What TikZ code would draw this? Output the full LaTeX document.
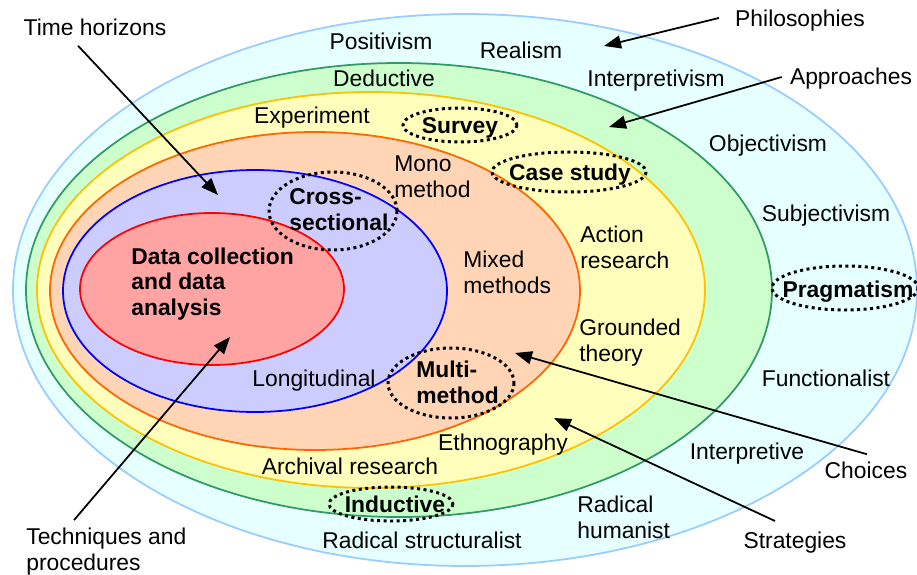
\documentclass[tikz,border=0pt]{standalone}
\usepackage{fontspec}
\setmainfont{Liberation Sans}
\usetikzlibrary{arrows.meta,calc}

\definecolor{skyfill}{HTML}{E6FFFF}
\definecolor{skyline}{HTML}{99CCFF}
\definecolor{mintfill}{HTML}{CCFFCC}
\definecolor{mintline}{HTML}{339966}
\definecolor{lemonfill}{HTML}{FFFFBB}
\definecolor{lemonline}{HTML}{FFC000}
\definecolor{peachfill}{HTML}{FFD5B5}
\definecolor{peachline}{HTML}{FF6600}
\definecolor{lilacfill}{HTML}{CCCCFF}
\definecolor{lilacline}{HTML}{0000FF}
\definecolor{rosefill}{HTML}{FFA3A3}
\definecolor{roseline}{HTML}{FF0000}

\begin{document}
\begin{tikzpicture}
  [x=0.02cm,y=-0.02cm,
   every node/.style={inner sep=0pt,font=\fontsize{13}{14.7}\selectfont},
   bold/.style={font=\fontsize{13}{14.7}\selectfont\bfseries},
   multi/.style={align=left,anchor=west},
   layer/.style={line width=1pt},
   ring/.style={line width=1.7pt,dash pattern=on 1.7pt off 2pt},
   arr/.style={line width=1pt,-{Triangle[length=3.4mm,width=2.6mm]}}]
  \useasboundingbox (0,0) rectangle (917,575);

  % Die Schichten der Zwiebel, von aussen nach innen
  \draw[layer,skyline,fill=skyfill] (465,290) ellipse (452 and 276);
  \draw[layer,mintline,fill=mintfill] (399,290) ellipse (373 and 227);
  \draw[layer,lemonline,fill=lemonfill] (371,290) ellipse (334 and 198);
  \draw[layer,peachline,fill=peachfill] (315,291) ellipse (265 and 159);
  \draw[layer,lilacline,fill=lilacfill] (255,291) ellipse (192 and 121);
  \draw[layer,roseline,fill=rosefill] (212,289) ellipse (132 and 76);

  % punktierte Ringe
  \draw[ring] (460,125) ellipse (57 and 17);
  \draw[ring] (569,172) ellipse (77 and 20);
  \draw[ring] (333,211) ellipse (64 and 39);
  \draw[ring] (845,288) ellipse (73 and 22);
  \draw[ring] (451,383) ellipse (63 and 35);
  \draw[ring] (391,504) ellipse (62 and 17);

  % Beschriftungen
  \node (timeh) at (95,27) {Time horizons};
  \node (philo) at (800,21) {Philosophies};
  \node (appr) at (851,79) {Approaches};
  \node (posit) at (381,41) {Positivism};
  \node (realism) at (521,50) {Realism};
  \node (deduct) at (384,78) {Deductive};
  \node (interpv) at (656,81) {Interpretivism};
  \node (exper) at (312,118) {Experiment};
  \node[bold] (survey) at (460,128) {Survey};
  \node (object) at (768,146) {Objectivism};
  \node[multi] (mono) at (394,177) {Mono\\method};
  \node[bold] (case) at (570,175) {Case study};
  \node[bold,multi] (cross) at (289,210) {Cross-\\sectional};
  \node (subject) at (826,216) {Subjectivism};
  \node[multi] (action) at (580,247) {Action\\research};
  \node[bold,multi] (data) at (131,284) {Data collection\\and data\\analysis};
  \node[multi] (mixed) at (463,272) {Mixed\\methods};
  \node[bold] (prag) at (848,292) {Pragmatism};
  \node[multi] (ground) at (579,343) {Grounded\\theory};
  \node (longit) at (314,381) {Longitudinal};
  \node[bold,multi] (multim) at (416,382) {Multi-\\method};
  \node (funct) at (826,378) {Functionalist};
  \node (ethno) at (503,445) {Ethnography};
  \node (interpt) at (747,454) {Interpretive};
  \node (archiv) at (350,466) {Archival research};
  \node (choices) at (866,470) {Choices};
  \node[bold] (induct) at (395,504) {Inductive};
  \node[multi] (radhum) at (577,517) {Radical\\humanist};
  \node (radstr) at (422,540) {Radical structuralist};
  \node (strat) at (795,543) {Strategies};
  \node[multi] (techn) at (26,552) {Techniques and\\procedures};

  % Pfeilspitzen
  \coordinate (tTime) at (218,195);
  \coordinate (tPhilo) at (604,46);
  \coordinate (tAppr) at (609,127);
  \coordinate (tTech) at (230,337);
  \coordinate (tChoice) at (515,353);
  \coordinate (tStrat) at (554,418);

  \draw[arr] ($(timeh.south)+(-17,10)$) -- (tTime);
  \draw[arr] ($(philo.west)+(-16,-3)$) -- (tPhilo);
  \draw[arr] ($(appr.west)+(-8,-2)$) -- (tAppr);
  \draw[arr] ($(techn.north west)+(48,-8)$) -- (tTech);
  \draw[arr] ($(choices.north)+(1,-7)$) -- (tChoice);
  \draw[arr] ($(strat.north)+(-20,-11)$) -- (tStrat);
\end{tikzpicture}
\end{document}
